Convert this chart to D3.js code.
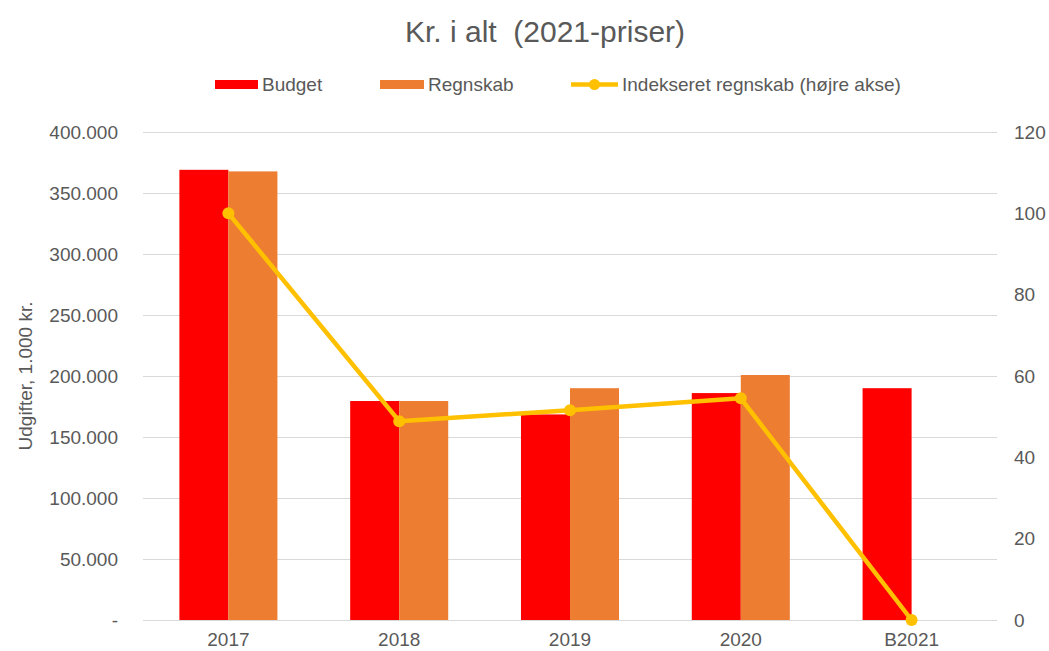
<!DOCTYPE html>
<html>
<head>
<meta charset="utf-8">
<script src="https://cdn.jsdelivr.net/npm/d3@7"></script>
<style>
  body { margin: 0; background: #fff; }
  text { font-family: "Liberation Sans", Arial, sans-serif; fill: #595959; }
</style>
</head>
<body>
<svg width="1049" height="651"></svg>
<script>
var categories = ["2017", "2018", "2019", "2020", "B2021"];
var budget = [369000, 179500, 168500, 186000, 190000];
var regnskab = [367700, 179500, 190000, 200800, null];
var indeks = [100, 48.9, 51.6, 54.5, 0];
var leftTicks = [0, 50000, 100000, 150000, 200000, 250000, 300000, 350000, 400000];
var rightTicks = [0, 20, 40, 60, 80, 100, 120];

(function(){
  var svg = d3.select("svg");
  var pLeft = 143, pRight = 997, pTop = 132, pBottom = 620;

  var x = d3.scaleBand().domain(categories).range([pLeft, pRight])
    .paddingInner(0.426).paddingOuter(0.213);
  var y = d3.scaleLinear().domain([0, 400000]).range([pBottom, pTop]);
  var y2 = d3.scaleLinear().domain([0, 120]).range([pBottom, pTop]);

  var fmt = function(d){
    if (d === 0) return "-";
    return d3.format(",")(d).replace(/,/g, ".");
  };

  // gridlines
  svg.append("g").selectAll("line").data(leftTicks).enter().append("line")
    .attr("x1", pLeft).attr("x2", pRight)
    .attr("y1", function(d){ return Math.round(y(d)) + 0.5; })
    .attr("y2", function(d){ return Math.round(y(d)) + 0.5; })
    .attr("stroke", "#d9d9d9").attr("stroke-width", 1);

  // left axis
  var gl = svg.append("g").attr("transform", "translate(" + (pLeft - 25) + ",0)")
    .call(d3.axisLeft(y).tickValues(leftTicks).tickFormat(fmt).tickSize(0).tickPadding(0));
  gl.select(".domain").remove();
  gl.selectAll("text").attr("font-size", "19px").attr("fill", "#595959")
    .attr("font-family", "Liberation Sans, Arial, sans-serif");

  // right axis
  var gr = svg.append("g").attr("transform", "translate(" + (pRight + 17) + ",0)")
    .call(d3.axisRight(y2).tickValues(rightTicks).tickSize(0).tickPadding(0));
  gr.select(".domain").remove();
  gr.selectAll("text").attr("font-size", "19px").attr("fill", "#595959")
    .attr("font-family", "Liberation Sans, Arial, sans-serif");

  // bars
  var half = x.bandwidth() / 2;
  svg.append("g").selectAll("rect").data(budget).enter().append("rect")
    .attr("x", function(d, i){ return x(categories[i]); })
    .attr("width", half)
    .attr("y", function(d){ return y(d); })
    .attr("height", function(d){ return pBottom - y(d); })
    .attr("fill", "#ff0000");
  svg.append("g").selectAll("rect").data(regnskab.filter(function(d){ return d !== null; })).enter().append("rect")
    .attr("x", function(d, i){ return x(categories[i]) + half; })
    .attr("width", half)
    .attr("y", function(d){ return y(d); })
    .attr("height", function(d){ return pBottom - y(d); })
    .attr("fill", "#ed7d31");

  // category axis
  var gx = svg.append("g").attr("transform", "translate(0," + pBottom + ")")
    .call(d3.axisBottom(x).tickSize(0).tickPadding(13));
  gx.select(".domain").remove();
  gx.selectAll("text").attr("font-size", "19px").attr("fill", "#595959")
    .attr("font-family", "Liberation Sans, Arial, sans-serif");

  // line
  var line = d3.line()
    .x(function(d, i){ return x(categories[i]) + x.bandwidth() / 2; })
    .y(function(d){ return y2(d); });
  svg.append("path").datum(indeks).attr("d", line)
    .attr("fill", "none").attr("stroke", "#ffc000").attr("stroke-width", 4.5)
    .attr("stroke-linejoin", "round");
  svg.append("g").selectAll("circle").data(indeks).enter().append("circle")
    .attr("cx", function(d, i){ return x(categories[i]) + x.bandwidth() / 2; })
    .attr("cy", function(d){ return y2(d); })
    .attr("r", 6).attr("fill", "#ffc000");

  // title
  svg.append("text").attr("x", 545).attr("y", 42).attr("text-anchor", "middle")
    .attr("font-size", "30px").style("white-space", "pre")
    .text("Kr. i alt  (2021-priser)");

  // y label
  svg.append("text").attr("transform", "translate(32," + ((pTop + pBottom) / 2) + ") rotate(-90)")
    .attr("text-anchor", "middle").attr("font-size", "19px")
    .text("Udgifter, 1.000 kr.");

  // legend
  var lg = svg.append("g");
  lg.append("rect").attr("x", 215).attr("y", 80).attr("width", 43).attr("height", 9).attr("fill", "#ff0000");
  lg.append("text").attr("x", 262).attr("y", 91).attr("font-size", "19px").text("Budget");
  lg.append("rect").attr("x", 380).attr("y", 80).attr("width", 44).attr("height", 9).attr("fill", "#ed7d31");
  lg.append("text").attr("x", 428).attr("y", 91).attr("font-size", "19px").text("Regnskab");
  lg.append("line").attr("x1", 571).attr("x2", 618).attr("y1", 84.5).attr("y2", 84.5)
    .attr("stroke", "#ffc000").attr("stroke-width", 4.5);
  lg.append("circle").attr("cx", 594.5).attr("cy", 84.5).attr("r", 5.5).attr("fill", "#ffc000");
  lg.append("text").attr("x", 622).attr("y", 91).attr("font-size", "19px").text("Indekseret regnskab (højre akse)");
})();
</script>
</body>
</html>
